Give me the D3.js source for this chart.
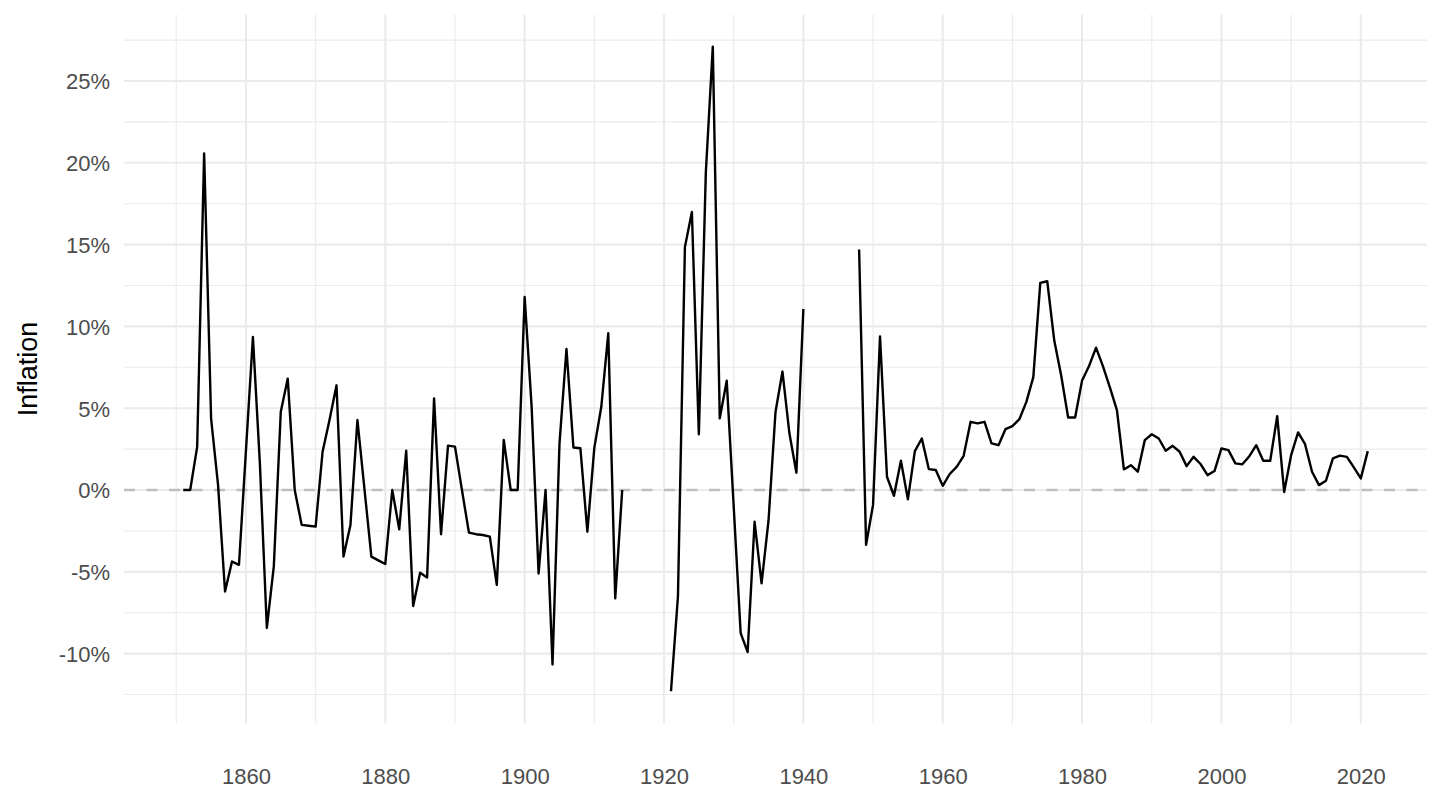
<!DOCTYPE html>
<html>
<head>
<meta charset="utf-8">
<script src="https://cdn.jsdelivr.net/npm/d3@7"></script>
<style>
  html, body { margin: 0; padding: 0; background: #fff; }
  svg { display: block; }
</style>
</head>
<body>
<svg id="chart" width="1440" height="810"></svg>
<script>
const years = [
  1851,1852,1853,1854,1855,1856,1857,1858,1859,1860,
  1861,1862,1863,1864,1865,1866,1867,1868,1869,1870,
  1871,1872,1873,1874,1875,1876,1877,1878,1879,1880,
  1881,1882,1883,1884,1885,1886,1887,1888,1889,1890,
  1891,1892,1893,1894,1895,1896,1897,1898,1899,1900,
  1901,1902,1903,1904,1905,1906,1907,1908,1909,1910,
  1911,1912,1913,1914,1915,1916,1917,1918,1919,1920,
  1921,1922,1923,1924,1925,1926,1927,1928,1929,1930,
  1931,1932,1933,1934,1935,1936,1937,1938,1939,1940,
  1941,1942,1943,1944,1945,1946,1947,1948,1949,1950,
  1951,1952,1953,1954,1955,1956,1957,1958,1959,1960,
  1961,1962,1963,1964,1965,1966,1967,1968,1969,1970,
  1971,1972,1973,1974,1975,1976,1977,1978,1979,1980,
  1981,1982,1983,1984,1985,1986,1987,1988,1989,1990,
  1991,1992,1993,1994,1995,1996,1997,1998,1999,2000,
  2001,2002,2003,2004,2005,2006,2007,2008,2009,2010,
  2011,2012,2013,2014,2015,2016,2017,2018,2019,2020,
  2021
];
// inflation in percent; null = missing year
const inflation = [
  0, 0, 2.64, 20.57, 4.37, 0.3, -6.2, -4.37, -4.57, 2.4,
  9.35, 1.63, -8.43, -4.67, 4.78, 6.81, 0, -2.13, -2.18, -2.24,
  2.34, 4.3, 6.4, -4.07, -2.14, 4.28, 0.1, -4.07, -4.3, -4.52,
  0, -2.4, 2.4, -7.09, -5.05, -5.34, 5.6, -2.7, 2.71, 2.65,
  0, -2.6, -2.7, -2.75, -2.85, -5.8, 3.06, 0, 0, 11.8,
  5.1, -5.1, 0, -10.66, 2.85, 8.62, 2.6, 2.55, -2.55, 2.59,
  5.09, 9.58, -6.62, 0, null, null, null, null, null, null,
  -12.3, -6.5, 14.85, 17.0, 3.4, 19.4, 27.1, 4.38, 6.68, -1.0,
  -8.75, -9.9, -1.94, -5.7, -1.86, 4.77, 7.24, 3.45, 1.06, 11.06,
  null, null, null, null, null, null, null, 14.7, -3.35, -0.91,
  9.39, 0.81, -0.35, 1.79, -0.57, 2.38, 3.15, 1.28, 1.22, 0.26,
  0.98, 1.42, 2.09, 4.17, 4.07, 4.17, 2.85, 2.74, 3.72, 3.9,
  4.33, 5.39, 6.9, 12.66, 12.76, 9.15, 7.0, 4.43, 4.43, 6.7,
  7.58, 8.7, 7.56, 6.26, 4.88, 1.26, 1.52, 1.12, 3.05, 3.41,
  3.15, 2.4, 2.7, 2.34, 1.46, 2.03, 1.59, 0.91, 1.16, 2.54,
  2.44, 1.63, 1.57, 2.07, 2.74, 1.79, 1.79, 4.51, -0.12, 2.13,
  3.52, 2.8, 1.12, 0.3, 0.57, 1.93, 2.1, 2.03, 1.38, 0.71,
  2.38
];
const xMajorTicks = [1860, 1880, 1900, 1920, 1940, 1960, 1980, 2000, 2020];
const xMinorTicks = [1850, 1870, 1890, 1910, 1930, 1950, 1970, 1990, 2010];
const yMajorTicks = [-10, -5, 0, 5, 10, 15, 20, 25];
const yMinorTicks = [-12.5, -7.5, -2.5, 2.5, 7.5, 12.5, 17.5, 22.5, 27.5];
const yTitle = "Inflation";

const data = years.map((y, i) => ({ year: y, value: inflation[i] }));

// ggplot-like 5% expansion
const xExt = d3.extent(years);
const xPad = (xExt[1] - xExt[0]) * 0.05;
const vals = inflation.filter(v => v !== null);
const yExt = d3.extent(vals);
const yPad = (yExt[1] - yExt[0]) * 0.05;

const panel = { left: 124, right: 1427, top: 14.4, bottom: 723.5 };

const x = d3.scaleLinear()
  .domain([xExt[0] - xPad, xExt[1] + xPad])
  .range([panel.left, panel.right]);
const y = d3.scaleLinear()
  .domain([yExt[0] - yPad, yExt[1] + yPad])
  .range([panel.bottom, panel.top]);

const svg = d3.select("#chart");
const g = svg.append("g");

// minor grid
g.append("g").selectAll("line").data(xMinorTicks).join("line")
  .attr("x1", d => x(d)).attr("x2", d => x(d))
  .attr("y1", panel.top).attr("y2", panel.bottom)
  .attr("stroke", "#EBEBEB").attr("stroke-width", 1.1);
g.append("g").selectAll("line").data(yMinorTicks).join("line")
  .attr("y1", d => y(d)).attr("y2", d => y(d))
  .attr("x1", panel.left).attr("x2", panel.right)
  .attr("stroke", "#EBEBEB").attr("stroke-width", 1.1);
// major grid
g.append("g").selectAll("line").data(xMajorTicks).join("line")
  .attr("x1", d => x(d)).attr("x2", d => x(d))
  .attr("y1", panel.top).attr("y2", panel.bottom)
  .attr("stroke", "#EBEBEB").attr("stroke-width", 2.1);
g.append("g").selectAll("line").data(yMajorTicks).join("line")
  .attr("y1", d => y(d)).attr("y2", d => y(d))
  .attr("x1", panel.left).attr("x2", panel.right)
  .attr("stroke", "#EBEBEB").attr("stroke-width", 2.1);

// zero dashed line
g.append("line")
  .attr("x1", panel.left).attr("x2", panel.right)
  .attr("y1", y(0)).attr("y2", y(0))
  .attr("stroke", "#BEBEBE").attr("stroke-width", 2.6)
  .attr("stroke-dasharray", "11,11.5");

// line
const line = d3.line()
  .defined(d => d.value !== null)
  .x(d => x(d.year))
  .y(d => y(d.value));
g.append("path")
  .datum(data)
  .attr("d", line)
  .attr("fill", "none")
  .attr("stroke", "#000")
  .attr("stroke-width", 2.4)
  .attr("stroke-linejoin", "round");

// axes (ggplot-style: no lines, labels only)
const font = "'Liberation Sans', Arial, Helvetica, sans-serif";
const xAxis = d3.axisBottom(x).tickValues(xMajorTicks).tickFormat(d3.format("d")).tickSize(0).tickPadding(0);
const xg = svg.append("g").attr("transform", `translate(0, ${panel.bottom + 60})`).call(xAxis);
xg.select(".domain").remove();
xg.selectAll("text").attr("fill", "#4D4D4D").style("font-family", font).style("font-size", "22px").attr("dy", "0");

const yAxis = d3.axisLeft(y).tickValues(yMajorTicks).tickFormat(d => d + "%").tickSize(0).tickPadding(0);
const yg = svg.append("g").attr("transform", `translate(${110}, 0)`).call(yAxis);
yg.select(".domain").remove();
yg.selectAll("text").attr("fill", "#4D4D4D").style("font-family", font).style("font-size", "22px").attr("dy", "0.36em");

svg.append("text")
  .attr("transform", `translate(37, ${(panel.top + panel.bottom) / 2}) rotate(-90)`)
  .attr("text-anchor", "middle")
  .attr("fill", "#000")
  .style("font-family", font)
  .style("font-size", "27px")
  .text(yTitle);
</script>
</body>
</html>
